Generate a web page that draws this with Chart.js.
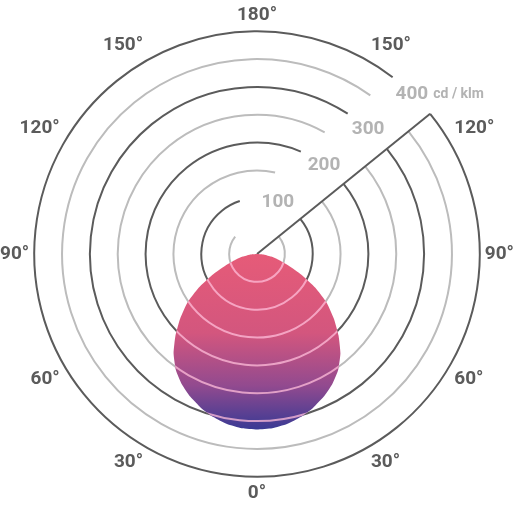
<!DOCTYPE html>
<html>
<head>
<meta charset="utf-8">
<script src="https://cdn.jsdelivr.net/npm/chart.js@4.4.1/dist/chart.umd.min.js"></script>
<style>
  html, body { margin: 0; padding: 0; background: #fff; }
  canvas { display: block; }
</style>
</head>
<body>
<canvas id="chart" width="515" height="508"></canvas>
<script>
// gamma angles of one half plane (0° = straight down, 180° = straight up)
const gamma = [0, 5, 10, 15, 20, 25, 30, 35, 40, 45, 50, 55, 60, 65, 70, 75, 80, 85, 90,
  95, 100, 105, 110, 115, 120, 125, 130, 135, 140, 145, 150, 155, 160, 165, 170, 175, 180];
// luminous intensity in cd/klm (same on both sides)
const intensity = [315, 314, 310, 303, 294, 283, 270, 254, 233, 207, 180, 153, 121, 88, 60, 40, 26, 13, 0,
  0, 0, 0, 0, 0, 0, 0, 0, 0, 0, 0, 0, 0, 0, 0, 0, 0, 0];
const angleTicks = [0, 30, 60, 90, 120, 150, 180];
const rings = [50, 100, 150, 200, 250, 300, 350, 400];
const ringLabels = [100, 200, 300, 400];
const unit = 'cd / klm';
const cutGamma = 129; // where the open slot for the scale labels starts

const DARK = '#5b5b5b';
const LIGHT = '#bcbcbc';
const SLOT = 52;      // width of the slot, px
const LABEL_OFF = 27; // labels sit in the middle of it

// full circle: left half goes 0 -> 180, right half back down
const labels = [];
const values = [];
for (let i = 0; i < 72; i++) {
  const k = i <= 36 ? i : 72 - i;
  labels.push(gamma[k]);
  values.push(intensity[k]);
}

function cutDir() {
  const th = (180 - cutGamma) * Math.PI / 180 - Math.PI / 2;
  return { th, ux: Math.cos(th), uy: Math.sin(th) };
}

function strokeRings(ctx, s, colorFor) {
  const { th } = cutDir();
  rings.forEach(v => {
    const r = s.getDistanceFromCenterForValue(v);
    // the innermost ring is too small to reach the far side of the slot
    const gap = SLOT < r ? Math.asin(SLOT / r) : Math.PI * 0.57;
    ctx.strokeStyle = colorFor(v);
    ctx.beginPath();
    ctx.arc(s.xCenter, s.yCenter, r, th, th + 2 * Math.PI - gap);
    ctx.stroke();
  });
}

const ringsPlugin = {
  id: 'rings',
  beforeDatasetsDraw(chart) {
    const s = chart.scales.r;
    const ctx = chart.ctx;
    const { ux, uy } = cutDir();
    ctx.save();
    ctx.lineWidth = 2;
    strokeRings(ctx, s, v => (v % 100 === 0 ? DARK : LIGHT));

    // edge of the slot
    const R = s.getDistanceFromCenterForValue(s.max);
    ctx.strokeStyle = DARK;
    ctx.beginPath();
    ctx.moveTo(s.xCenter, s.yCenter);
    ctx.lineTo(s.xCenter + ux * R, s.yCenter + uy * R);
    ctx.stroke();

    // scale labels inside the slot
    const nx = uy, ny = -ux;
    ctx.fillStyle = '#b3b3b3';
    ctx.textBaseline = 'middle';
    ringLabels.forEach((v, i) => {
      const r = s.getDistanceFromCenterForValue(v);
      const along = Math.sqrt(r * r - LABEL_OFF * LABEL_OFF);
      const x = s.xCenter + along * ux + LABEL_OFF * nx;
      const y = s.yCenter + along * uy + LABEL_OFF * ny;
      ctx.font = 'bold 19px Roboto';
      ctx.textAlign = 'center';
      ctx.fillText(String(v), x, y);
      if (i === ringLabels.length - 1) {
        const w = ctx.measureText(String(v)).width;
        ctx.font = 'bold 14px Roboto';
        ctx.textAlign = 'left';
        ctx.fillText(unit, x + w / 2 + 5, y + 1);
      }
    });
    ctx.restore();
  },
  afterDatasetsDraw(chart) {
    // rings showing through the curve
    const s = chart.scales.r;
    const ctx = chart.ctx;
    const meta = chart.getDatasetMeta(0);
    ctx.save();
    ctx.beginPath();
    meta.dataset.path(ctx);
    ctx.closePath();
    ctx.clip();
    ctx.lineWidth = 2;
    strokeRings(ctx, s, () => 'rgba(255, 190, 218, 0.75)');
    ctx.restore();
  }
};

new Chart(document.getElementById('chart'), {
  type: 'radar',
  data: {
    labels: labels,
    datasets: [{
      data: values,
      fill: true,
      borderWidth: 0,
      pointRadius: 0,
      tension: 0.15,
      backgroundColor: ctx => {
        const s = ctx.chart.scales.r;
        if (!s || s.yCenter === undefined) return '#c0527f';
        const top = s.yCenter;
        const bottom = s.yCenter + s.getDistanceFromCenterForValue(Math.max(...values));
        const g = ctx.chart.ctx.createLinearGradient(0, top, 0, bottom);
        g.addColorStop(0, '#e65b78');
        g.addColorStop(0.45, '#d3567e');
        g.addColorStop(0.75, '#924a8f');
        g.addColorStop(1, '#3a3a94');
        return g;
      }
    }]
  },
  options: {
    responsive: false,
    animation: false,
    plugins: { legend: { display: false }, tooltip: { enabled: false } },
    scales: {
      r: {
        min: 0,
        max: 400,
        startAngle: 180,
        grid: { display: false },
        angleLines: { display: false },
        ticks: { display: false, stepSize: 50 },
        pointLabels: {
          padding: 5,
          color: DARK,
          font: { family: 'Roboto', size: 19, weight: 'bold' },
          callback: label => (angleTicks.includes(label) ? label + '°' : '')
        }
      }
    }
  },
  plugins: [ringsPlugin]
});
</script>
</body>
</html>
